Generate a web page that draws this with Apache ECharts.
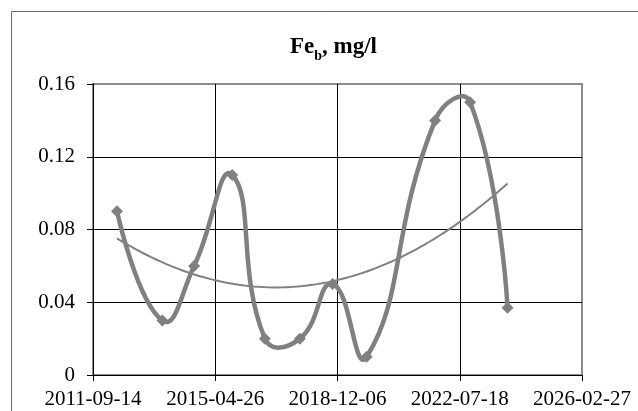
<!DOCTYPE html>
<html>
<head>
<meta charset="utf-8">
<script src="https://cdn.jsdelivr.net/npm/echarts@6/dist/echarts.min.js"></script>
<style>html,body{margin:0;padding:0;background:#fff;}#c{width:638px;height:411px;}</style>
</head>
<body>
<div id="c"></div>
<script>
// Data
const sampleDates = ['2012-05-30','2013-10-03','2014-09-10','2015-10-26','2016-10-13','2017-10-26','2018-10-14','2019-10-17','2021-10-25','2022-11-07','2023-12-16'];
const feValues = [0.09, 0.03, 0.06, 0.11, 0.02, 0.02, 0.05, 0.01, 0.14, 0.15, 0.037];
const yTicks = [0, 0.04, 0.08, 0.12, 0.16];
const xAxisStart = '2011-09-14';
const xAxisStepDays = 1320;
const xAxisSteps = 4;

const DAY = 86400000;
const base = Date.parse(xAxisStart + 'T00:00:00Z');
function toOffset(s){ return Math.round((Date.parse(s + 'T00:00:00Z') - base) / DAY); }
function fmtDate(off){
  const d = new Date(base + off * DAY);
  const p = n => (n < 10 ? '0' : '') + n;
  return d.getUTCFullYear() + '-' + p(d.getUTCMonth() + 1) + '-' + p(d.getUTCDate());
}
const xs = sampleDates.map(toOffset);
const mainData = xs.map((x, i) => [x, feValues[i]]);

// Polynomial (order 2) least-squares trendline, as in the original chart
function polyFit2(x, y){
  let n = x.length, S = [0,0,0,0,0], T = [0,0,0];
  for (let i = 0; i < n; i++){
    let xp = 1;
    for (let k = 0; k <= 4; k++){ S[k] += xp; if (k <= 2) T[k] += xp * y[i]; xp *= x[i]; }
  }
  const A = [[S[0],S[1],S[2],T[0]],[S[1],S[2],S[3],T[1]],[S[2],S[3],S[4],T[2]]];
  for (let c = 0; c < 3; c++){
    for (let r = c + 1; r < 3; r++){
      const f = A[r][c] / A[c][c];
      for (let k = c; k < 4; k++) A[r][k] -= f * A[c][k];
    }
  }
  const b = [0,0,0];
  for (let r = 2; r >= 0; r--){
    let s = A[r][3];
    for (let k = r + 1; k < 3; k++) s -= A[r][k] * b[k];
    b[r] = s / A[r][r];
  }
  return b;
}
const coef = polyFit2(xs, feValues);
const trendData = [];
const x0 = xs[0], x1 = xs[xs.length - 1];
for (let i = 0; i <= 80; i++){
  const x = x0 + (x1 - x0) * i / 80;
  trendData.push([x, coef[0] + coef[1] * x + coef[2] * x * x]);
}

// Smoothed curve through the data points (chord-length weighted tangents), positioned by the axes
function renderSmooth(params, api){
  const pts = mainData.map(p => api.coord(p));
  const n = pts.length, T = 0.5;
  const dist = (a, b) => Math.hypot(b[0] - a[0], b[1] - a[1]);
  const fwd = [], bwd = [];
  for (let i = 0; i < n; i++){
    const p = pts[i];
    if (i === 0 || i === n - 1){ fwd.push(p); bwd.push(p); continue; }
    const a = pts[i - 1], b = pts[i + 1];
    const v = [b[0] - a[0], b[1] - a[1]];
    const dp = dist(a, p), dn = dist(p, b), s = dp + dn;
    fwd.push([p[0] + v[0] * T * dn / s, p[1] + v[1] * T * dn / s]);
    bwd.push([p[0] - v[0] * T * dp / s, p[1] - v[1] * T * dp / s]);
  }
  let d = 'M' + pts[0][0] + ' ' + pts[0][1];
  for (let i = 0; i < n - 1; i++){
    const c1 = fwd[i], c2 = bwd[i + 1], p2 = pts[i + 1];
    d += ' C' + c1[0] + ' ' + c1[1] + ' ' + c2[0] + ' ' + c2[1] + ' ' + p2[0] + ' ' + p2[1];
  }
  return {
    type: 'path',
    shape: {pathData: d},
    style: {stroke: '#808080', lineWidth: 4.5, fill: null, lineJoin: 'round', lineCap: 'round'}
  };
}

const FONT = 'Liberation Serif';
const chart = echarts.init(document.getElementById('c'), null, {renderer: 'canvas'});
chart.setOption({
  backgroundColor: '#ffffff',
  animation: false,
  title: {
    text: '{m|Fe}{s|b}{m|, mg/l}',
    left: 285,
    top: 28,
    textStyle: {
      rich: {
        m: {fontFamily: FONT, fontWeight: 'bold', fontSize: 23, color: '#000', verticalAlign: 'bottom', lineHeight: 26},
        s: {fontFamily: FONT, fontWeight: 'bold', fontSize: 14, color: '#000', verticalAlign: 'bottom', lineHeight: 26, padding: [0,0,-4,0]}
      }
    }
  },
  graphic: [{
    type: 'rect', left: 9, top: 9, silent: true,
    shape: {width: 700, height: 500},
    style: {fill: 'none', stroke: '#666666', lineWidth: 1}
  }],
  grid: {
    left: 93, right: 56, top: 84, bottom: 36,
    show: true, borderColor: '#8c8c8c', borderWidth: 2, backgroundColor: 'transparent'
  },
  xAxis: {
    type: 'value',
    min: 0, max: xAxisStepDays * xAxisSteps, interval: xAxisStepDays,
    axisLine: {show: true, lineStyle: {color: '#000', width: 1}},
    axisTick: {show: true, inside: false, length: 6, lineStyle: {color: '#000'}},
    axisLabel: {color: '#000', fontFamily: FONT, fontSize: 21, margin: 14, formatter: v => fmtDate(v)},
    splitLine: {show: true, showMinLine: false, showMaxLine: false, lineStyle: {color: '#000', width: 1}}
  },
  yAxis: {
    type: 'value',
    min: yTicks[0], max: yTicks[yTicks.length - 1], interval: yTicks[1] - yTicks[0],
    axisLine: {show: true, lineStyle: {color: '#000', width: 1}},
    axisTick: {show: true, inside: false, length: 6, lineStyle: {color: '#000'}},
    axisLabel: {color: '#000', fontFamily: FONT, fontSize: 21, margin: 18, formatter: v => (v === 0 ? '0' : v.toFixed(2))},
    splitLine: {show: true, showMinLine: false, showMaxLine: false, lineStyle: {color: '#000', width: 1}}
  },
  series: [{
    type: 'custom',
    data: [mainData[0]],
    renderItem: renderSmooth,
    clip: false,
    silent: true,
    z: 3
  }, {
    type: 'scatter',
    data: mainData,
    symbol: 'diamond',
    symbolSize: 12,
    itemStyle: {color: '#808080', opacity: 1},
    z: 4
  }, {
    type: 'line',
    data: trendData,
    showSymbol: false,
    symbol: 'none',
    lineStyle: {color: '#808080', width: 2},
    z: 5
  }]
});
</script>
</body>
</html>
